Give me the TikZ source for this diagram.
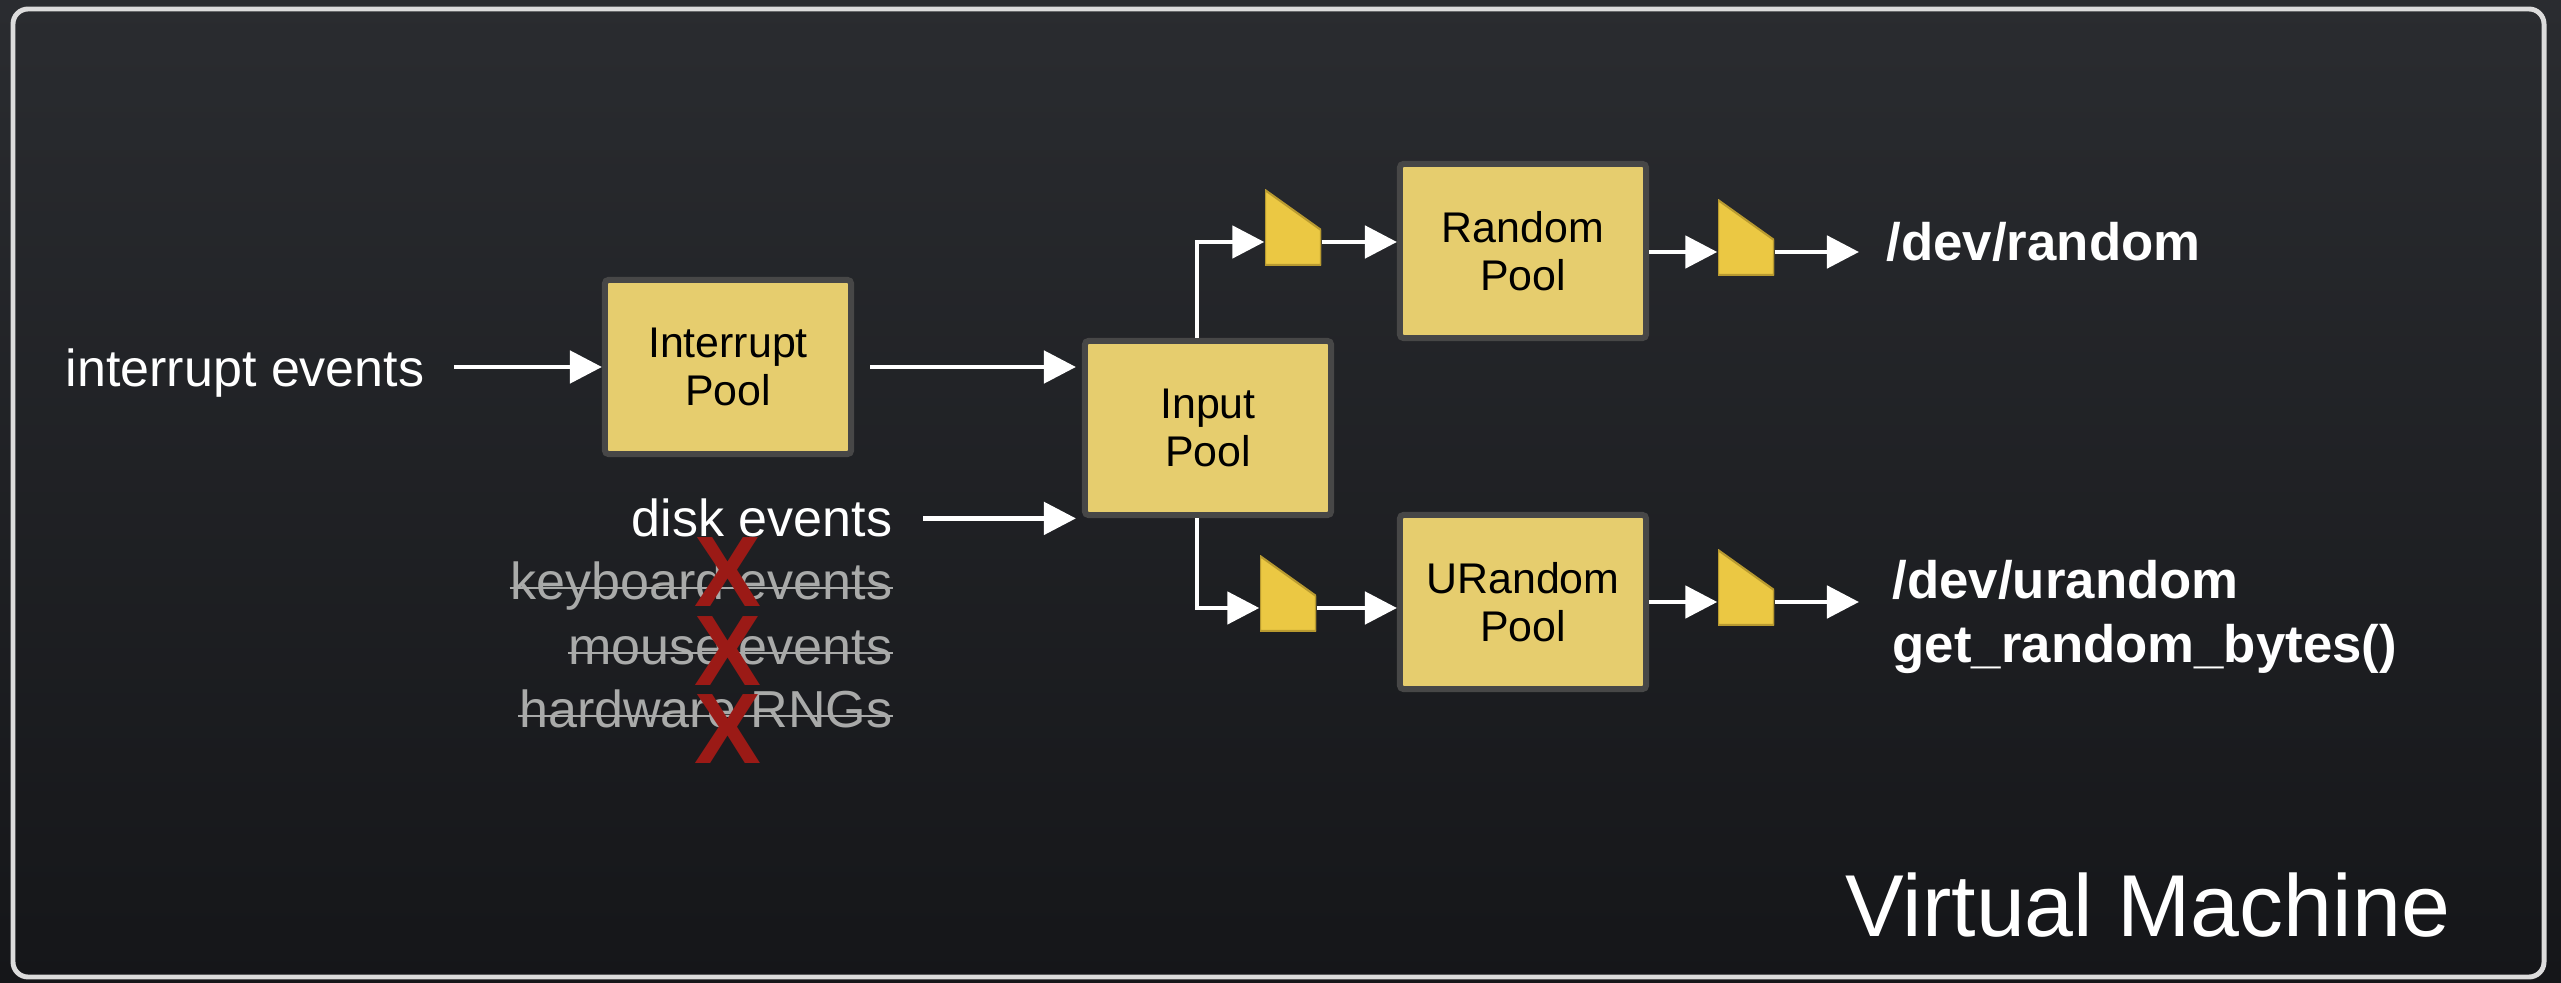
\documentclass[tikz,border=0pt]{standalone}
\usepackage{fontspec}
\setmainfont{Liberation Sans}
\usetikzlibrary{arrows.meta}
\definecolor{bgtop}{HTML}{2A2C30}
\definecolor{bgbot}{HTML}{151619}
\definecolor{framegrey}{HTML}{DCDCDC}
\definecolor{poolfill}{HTML}{E6CD6E}
\definecolor{poolline}{HTML}{474747}
\definecolor{funnelfill}{HTML}{EBC843}
\definecolor{funnelline}{HTML}{B89A30}
\definecolor{struckgrey}{HTML}{A9AAA9}
\definecolor{crossred}{HTML}{9B1A16}

\begin{document}
\begin{tikzpicture}[x=0.01cm, y=-0.01cm,
	pool/.style={draw=poolline, line width=1.7pt, fill=poolfill, rounded corners=1pt,
		minimum width=2.46cm, minimum height=1.74cm, align=center, inner sep=0pt,
		font=\fontsize{12.2}{13.6}\selectfont},
	funnel/.style={inner sep=0pt, minimum width=0.56cm, text height=0.52cm, text depth=0.23cm,
		path picture={\filldraw[fill=funnelfill, draw=funnelline, line width=0.6pt]
			(path picture bounding box.south west) -- (path picture bounding box.north west)
			-- ([yshift=-0.4cm]path picture bounding box.north east)
			-- (path picture bounding box.south east) -- cycle;}},
	evt/.style={text=white, inner sep=0pt, font=\fontsize{14.8}{17}\selectfont},
	gone/.style={evt, text=struckgrey},
	strike/.style={draw=struckgrey, line width=0.8pt},
	xmark/.style={text=crossred, inner sep=0pt, font=\fontsize{28.5}{30}\selectfont\bfseries},
	dev/.style={text=white, inner sep=0pt, align=left, font=\fontsize{15}{18.2}\selectfont\bfseries},
	vmlabel/.style={text=white, inner sep=0pt, font=\fontsize{25}{30}\selectfont},
	arr/.style={draw=white, line width=1.4pt, -{Triangle[length=0.32cm, width=0.32cm]}}
	]
		\useasboundingbox (0,0) rectangle (2561,983);
		\fill[top color=bgtop, bottom color=bgbot] (0,0) rectangle (2561,983);
		\draw[framegrey, line width=1.4pt, rounded corners=0.15cm] (13,9) rectangle (2544,977);

		\node[pool] (ip) at (728, 367)		{Interrupt\\Pool};
		\node[pool] (in) at (1208, 428)		{Input\\Pool};
		\node[pool] (rp) at (1523, 251)		{Random\\Pool};
		\node[pool] (up) at (1523, 602)		{URandom\\Pool};

		\node[funnel, anchor=base] (f1) at (1293, 242)		{};
		\node[funnel, anchor=base] (f2) at (1746, 252)		{};
		\node[funnel, anchor=base] (f3) at (1288, 608)		{};
		\node[funnel, anchor=base] (f4) at (1746, 602)		{};

		\node[evt, anchor=base west] (ie) at (65, 387)		{interrupt events};
		\node[evt, anchor=base east] (dk) at (893, 537)		{disk events};
		\node[gone, anchor=base east] (kb) at (893, 600)		{keyboard events};
		\node[gone, anchor=base east] (ms) at (893, 665)		{mouse events};
		\node[gone, anchor=base east] (hw) at (893, 728)		{hardware RNGs};

		\node[dev, anchor=base west] (dr) at (1886, 261)		{/dev/random};
		\node[dev, anchor=west] (ur) at (1892, 617)		{/dev/urandom\\get\_random\_bytes()};
		\node[vmlabel, anchor=base west] (vm) at (1845, 936)		{Virtual Machine};

		\draw[strike] ([yshift=0.12cm]kb.base west) -- ([yshift=0.12cm]kb.base east);
		\draw[strike] ([yshift=0.12cm]ms.base west) -- ([yshift=0.12cm]ms.base east);
		\draw[strike] ([yshift=0.12cm]hw.base west) -- ([yshift=0.12cm]hw.base east);

		\node[xmark] (x1) at (728, 572)		{X};
		\node[xmark] (x2) at (728, 651)		{X};
		\node[xmark] (x3) at (728, 729)		{X};

		\coordinate (inN) at ([xshift=-0.11cm]in.north);
		\coordinate (inS) at ([xshift=-0.11cm]in.south);

		\draw[arr, shorten <=0.29cm] (ip.west -| ie.east) -- (ip.west);
		\draw[arr, shorten <=0.16cm, shorten >=0.06cm] (ip.east) -- (ip.east -| in.west);
		\draw[arr, shorten <=0.3cm, shorten >=0.06cm] (dk.east) -- (dk.east -| in.west);
		\draw[arr] (inN) |- (f1.base west);
		\draw[arr] (inS) |- (f3.base west);
		\draw[arr] (f1.base east) -- (f1.base east -| rp.west);
		\draw[arr] (f3.base east) -- (f3.base east -| up.west);
		\draw[arr] (rp.east |- f2.base west) -- (f2.base west);
		\draw[arr] (up.east |- f4.base west) -- (f4.base west);
		\draw[arr, shorten >=0.27cm] (f2.base east) -- (f2.base east -| dr.west);
		\draw[arr, shorten >=0.33cm] (f4.base east) -- (f4.base east -| ur.west);
	\end{tikzpicture}
\end{document}
